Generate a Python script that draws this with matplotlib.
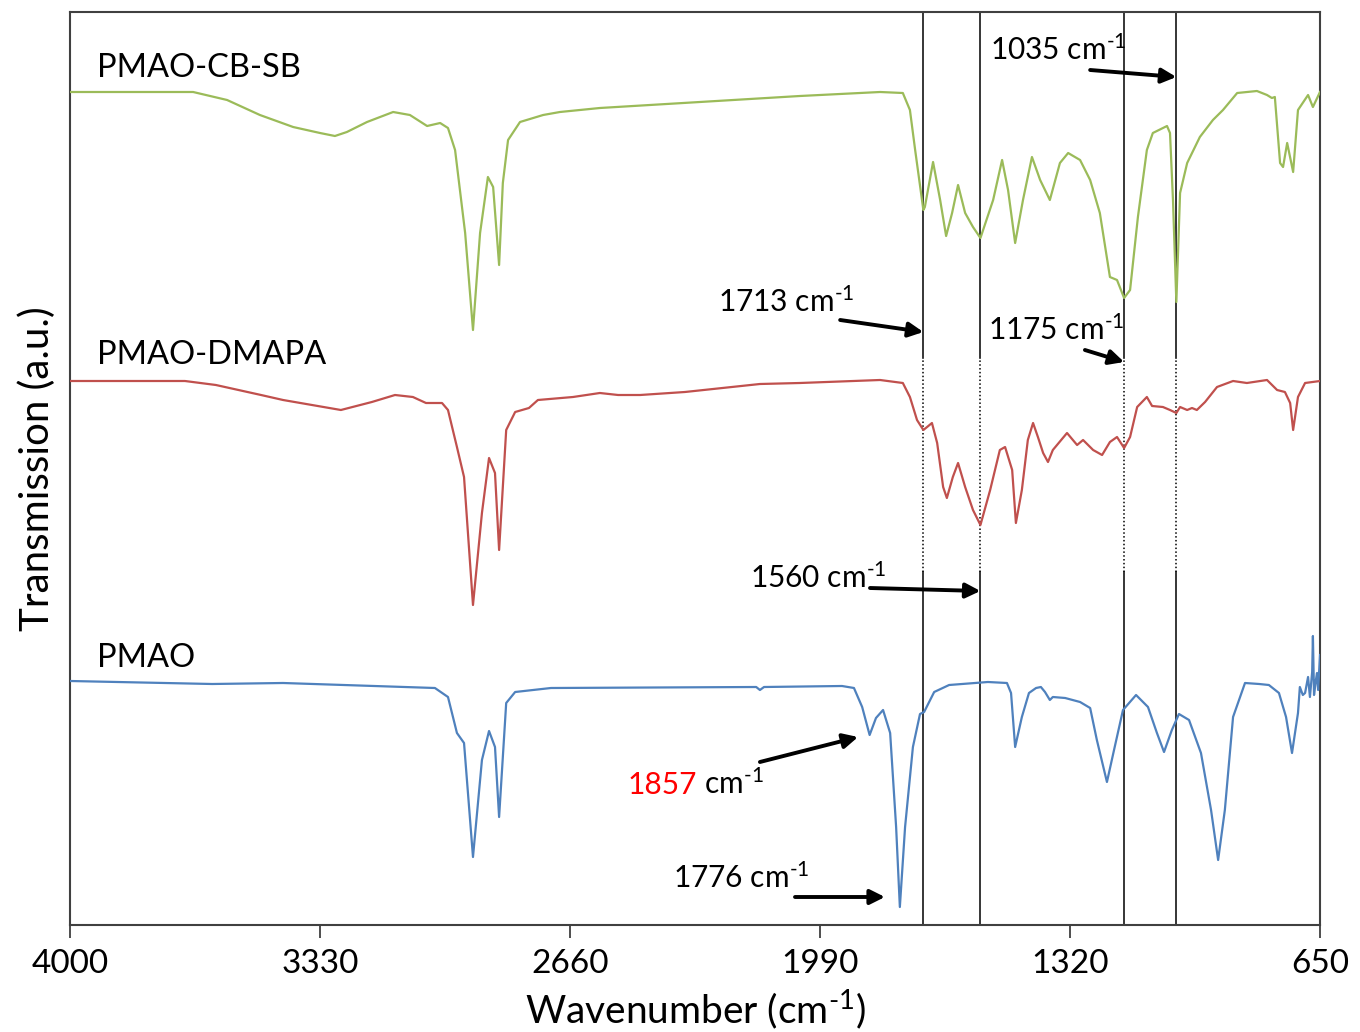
import matplotlib
matplotlib.use("Agg")
import matplotlib.pyplot as plt

plt.rcParams['font.family'] = ['Lato', 'DejaVu Sans']
plt.rcParams['mathtext.fontset'] = 'custom'
plt.rcParams['mathtext.rm'] = 'Lato'
plt.rcParams['mathtext.default'] = 'regular'

# ---- data (wavenumber in cm-1, transmission in arbitrary offset units) ----
cbsb_wn = [4000, 3670, 3579, 3491, 3402, 3330, 3290, 3258, 3204, 3134, 3089, 3043, 3008, 2987,
           2968, 2955, 2941, 2920, 2901, 2880, 2866, 2850, 2840, 2826, 2794, 2732, 2687, 2580,
           2312, 2044, 1829, 1768, 1749, 1735, 1713, 1709, 1687, 1668, 1652, 1636, 1620, 1601,
           1580, 1560, 1526, 1502, 1486, 1467, 1446, 1422, 1400, 1374, 1347, 1325, 1293, 1266,
           1240, 1213, 1194, 1175, 1159, 1138, 1114, 1098, 1060, 1052, 1044, 1035, 1025, 1006,
           972, 937, 910, 872, 819, 792, 779, 771, 757, 749, 738, 722, 709, 682, 669, 650]
cbsb_t = [833, 833, 825, 810, 798, 792, 789, 793, 803, 813, 810, 799, 802, 797,
          775, 735, 692, 595, 692, 748, 738, 660, 742, 785, 803, 810, 813, 817,
          823, 829, 833, 832, 815, 775, 715, 718, 763, 725, 689, 712, 740, 712,
          698, 687, 725, 765, 735, 682, 725, 768, 745, 725, 762, 772, 765, 745,
          712, 648, 645, 627, 635, 708, 775, 792, 799, 792, 725, 623, 732, 762,
          788, 805, 815, 832, 834, 830, 827, 828, 762, 758, 782, 753, 815, 830, 818, 833]

dmapa_wn = [4000, 3692, 3609, 3488, 3429, 3274, 3191, 3129, 3081, 3046, 3003, 2987, 2963, 2944,
            2920, 2896, 2877, 2861, 2850, 2831, 2807, 2770, 2746, 2652, 2580, 2531, 2472, 2352,
            2151, 2044, 1829, 1768, 1749, 1730, 1713, 1703, 1690, 1676, 1660, 1650, 1634, 1620,
            1601, 1580, 1560, 1534, 1508, 1494, 1475, 1465, 1449, 1433, 1419, 1406, 1392, 1379,
            1366, 1328, 1301, 1285, 1258, 1234, 1213, 1194, 1175, 1159, 1140, 1114, 1100, 1071,
            1052, 1035, 1025, 1006, 993, 980, 958, 926, 883, 846, 792, 765, 744, 730, 722, 709,
            690, 650]
dmapa_t = [544, 544, 540, 530, 525, 515, 523, 530, 528, 522, 522, 515, 478, 448,
           320, 412, 467, 452, 375, 495, 513, 517, 525, 528, 532, 530, 530, 533,
           541, 542, 545, 542, 528, 505, 495, 498, 502, 482, 438, 427, 448, 462,
           438, 415, 400, 435, 475, 478, 455, 402, 435, 485, 502, 488, 472, 463,
           475, 492, 480, 485, 475, 470, 483, 488, 477, 488, 518, 528, 519, 518,
           515, 512, 518, 515, 517, 515, 523, 538, 544, 542, 545, 535, 533, 522, 495, 528,
           542, 544]

pmao_wn = [4000, 3619, 3429, 3022, 2987, 2963, 2944, 2920, 2896, 2877, 2861, 2850, 2831, 2807,
           2711, 2161, 2151, 2140, 1931, 1899, 1877, 1857, 1840, 1821, 1802, 1786, 1776, 1762,
           1741, 1722, 1711, 1684, 1644, 1540, 1489, 1478, 1467, 1449, 1430, 1411, 1398, 1387,
           1374, 1366, 1333, 1293, 1266, 1248, 1221, 1202, 1178, 1143, 1111, 1087, 1068, 1047,
           1028, 1001, 969, 942, 923, 905, 883, 851, 813, 787, 760, 741, 725, 709, 704, 696,
           690, 682, 677, 671, 669, 666, 661, 658, 655, 650]
pmao_t = [244, 241, 242, 237, 228, 192, 182, 68, 165, 194, 178, 108, 222, 233,
          237, 238, 235, 238, 239, 237, 218, 190, 207, 215, 192, 98, 18, 98,
          178, 211, 213, 233, 240, 243, 242, 232, 178, 208, 232, 237, 238, 233,
          225, 228, 227, 223, 217, 185, 143, 175, 215, 230, 218, 192, 173, 195,
          211, 205, 172, 115, 65, 115, 208, 242, 241, 240, 232, 208, 172, 212, 238, 230,
          232, 248, 228, 253, 289, 230, 245, 252, 235, 270]

series_names = ['PMAO-CB-SB', 'PMAO-DMAPA', 'PMAO']
series_colors = ['#9BBB59', '#C0504D', '#4F81BD']

marker_wn = [1713, 1560, 1175, 1035]
xticks = [4000, 3330, 2660, 1990, 1320, 650]

SUP = r'$^{\text{-1}}$'

# ---- figure ----
fig = plt.figure(figsize=(13.6, 10.32), dpi=100)
ax = fig.add_axes([70 / 1360, 107 / 1032, 1250 / 1360, 913 / 1032])

for wn, t, c in zip([cbsb_wn, dmapa_wn, pmao_wn], [cbsb_t, dmapa_t, pmao_t], series_colors):
    ax.plot(wn, t, color=c, lw=1.6, zorder=3, solid_joinstyle='round')

ax.set_xlim(4000, 650)
ax.set_ylim(0, 913)

# vertical marker lines: solid, dotted across the middle spectrum
for w in marker_wn:
    ax.plot([w, w], [0, 353], color='black', lw=1.1, zorder=2)
    ax.plot([w, w], [353, 567], color='black', lw=1.1, ls=(0, (1, 1.5)), zorder=2)
    ax.plot([w, w], [567, 913], color='black', lw=1.1, zorder=2)

# series labels
label_pos = [(3928, 857), (3928, 570), (3928, 267)]
for name, (x, y) in zip(series_names, label_pos):
    ax.text(x, y, name, fontsize=23.5, ha='left', va='center', color='black')

fs = 21.5
arrow = dict(arrowstyle='-|>', lw=2.8, color='black', mutation_scale=22, shrinkA=0, shrinkB=0)

def annot(label, text_xy, tail, head):
    ax.text(text_xy[0], text_xy[1], label, fontsize=fs, ha='left', va='center', zorder=5)
    ax.annotate('', xy=head, xytext=tail, arrowprops=arrow, zorder=5)

annot('1035 cm' + SUP, (1534, 875), (1266, 855), (1035, 848))
annot('1713 cm' + SUP, (2263, 623), (1936, 605), (1713, 593))
annot('1175 cm' + SUP, (1540, 595), (1280, 575), (1175, 563))
annot('1560 cm' + SUP, (2178, 347), (1856, 337), (1560, 334))
annot('1776 cm' + SUP, (2384, 47), (2057, 28), (1816, 28))

t1 = ax.text(2505, 140, '1857', fontsize=fs, ha='left', va='center', color='#FF0000', zorder=5)
ax.annotate(' cm' + SUP, xy=(1, 0), xycoords=t1, fontsize=fs, ha='left', va='bottom', zorder=5)
ax.annotate('', xy=(1888, 188), xytext=(2151, 163), arrowprops=arrow, zorder=5)

# axes styling
for s in ax.spines.values():
    s.set_color('#404040')
    s.set_linewidth(1.5)
ax.set_xticks(xticks)
ax.set_xticklabels([str(v) for v in xticks], fontsize=24)
ax.tick_params(axis='x', direction='out', length=9, width=1.3, color='#404040', pad=8)
ax.set_yticks([])
ax.set_xlabel('Wavenumber (cm' + SUP + ')', fontsize=28, labelpad=6)
ax.set_ylabel('Transmission (a.u.)', fontsize=29, labelpad=10)

fig.savefig('out.png', dpi=100)
